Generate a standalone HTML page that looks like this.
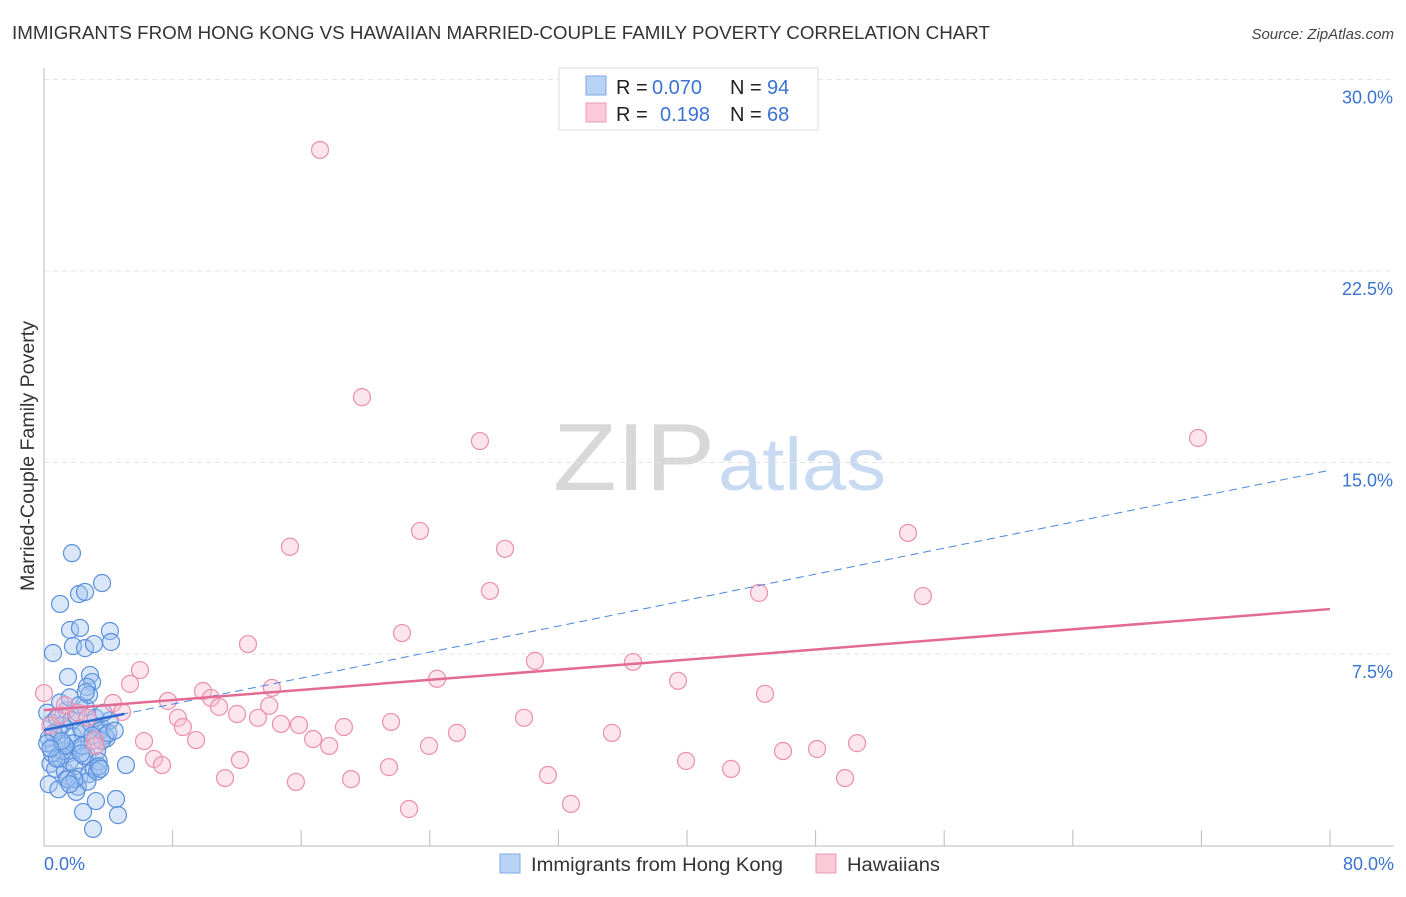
<!DOCTYPE html>
<html><head><meta charset="utf-8">
<style>
body{margin:0;background:#fff;font-family:"Liberation Sans",sans-serif;}
svg text{font-family:"Liberation Sans",sans-serif;}
</style></head>
<body>
<svg id="chart" width="1406" height="892" viewBox="0 0 1406 892">
<text x="12" y="39" font-size="18" fill="#333" textLength="978" lengthAdjust="spacingAndGlyphs">IMMIGRANTS FROM HONG KONG VS HAWAIIAN MARRIED-COUPLE FAMILY POVERTY CORRELATION CHART</text>
<text x="1394" y="39" font-size="15" fill="#444" text-anchor="end" font-style="italic">Source: ZipAtlas.com</text>
<text x="0" y="0" transform="translate(34,456) rotate(-90)" font-size="19" fill="#333" text-anchor="middle" textLength="270" lengthAdjust="spacingAndGlyphs">Married-Couple Family Poverty</text>
<text x="553" y="490" font-size="96" fill="#d8d8d8" font-family="Liberation Serif" textLength="162" lengthAdjust="spacingAndGlyphs">ZIP</text>
<text x="718" y="490" font-size="74" fill="#c8daf2" textLength="168" lengthAdjust="spacingAndGlyphs">atlas</text>
<g id="grid"></g>
<g id="pts"></g>
<g id="lines"></g>
<g>
<rect x="559" y="68" width="259" height="62" fill="#fff" stroke="#ddd"/>
<rect x="586" y="76" width="20" height="19" fill="#b8d3f5" stroke="#7fa9e6"/>
<rect x="586" y="103" width="20" height="19" fill="#fbcad9" stroke="#ee9bb6"/>
<text x="616" y="94" font-size="20" fill="#222">R =</text>
<text x="652" y="94" font-size="20" fill="#3a73d4">0.070</text>
<text x="730" y="94" font-size="20" fill="#222">N =</text>
<text x="767" y="94" font-size="20" fill="#3a73d4">94</text>
<text x="616" y="121" font-size="20" fill="#222">R =</text>
<text x="660" y="121" font-size="20" fill="#3a73d4">0.198</text>
<text x="730" y="121" font-size="20" fill="#222">N =</text>
<text x="767" y="121" font-size="20" fill="#3a73d4">68</text>
</g>
<g>
<rect x="500" y="854" width="20" height="19" fill="#b8d3f5" stroke="#7fa9e6"/>
<text x="531" y="871" font-size="19" fill="#333" textLength="252" lengthAdjust="spacingAndGlyphs">Immigrants from Hong Kong</text>
<rect x="816" y="854" width="20" height="19" fill="#fbcad9" stroke="#ee9bb6"/>
<text x="847" y="871" font-size="19" fill="#333" textLength="93" lengthAdjust="spacingAndGlyphs">Hawaiians</text>
</g>
</svg>
<script>
const yTicks=[7.5,15,22.5,30];
const yTickLabels=["7.5%","15.0%","22.5%","30.0%"];
const xTickLabels=["0.0%","80.0%"];
const blueX=[1.74,3.61,2.18,2.55,1.0,1.62,2.24,4.1,1.8,2.55,3.11,4.17,0.56,1.49,2.86,2.99,2.67,3.23,4.48,2.43,4.6,3.05,5.1,
0.3,0.6,0.9,1.2,1.5,1.8,2.1,2.4,2.7,3.0,3.3,3.6,3.9,0.2,0.5,0.8,1.1,1.4,1.7,2.0,2.3,2.6,2.9,3.2,3.5,3.8,4.1,0.4,0.7,1.0,1.3,1.6,1.9,2.2,2.5,2.8,3.1,3.4,0.3,0.9,1.5,2.1,2.7,3.3,0.6,1.2,1.8,2.4,3.0,3.6,1.0,1.6,2.2,2.8,0.5,1.3,2.0,3.4,4.0,0.2,0.8,1.4,4.4,3.7,2.6,1.1,0.4,1.9,3.5,2.3,1.6];
const blueY=[11.45,10.28,9.85,9.93,9.46,8.44,8.52,8.40,7.81,7.73,7.89,7.97,7.54,6.60,6.68,6.40,6.21,1.74,1.82,1.31,1.19,0.65,3.15,
4.2,3.9,4.5,4.0,3.6,4.3,3.8,4.4,3.5,4.1,3.7,4.6,4.2,5.2,4.8,5.0,4.7,5.3,4.9,5.1,4.6,5.4,4.8,5.0,4.5,4.3,4.9,3.2,3.0,3.4,2.9,3.3,3.1,2.7,3.5,2.8,3.0,3.3,2.4,2.2,2.6,2.3,2.5,2.9,4.4,3.7,4.0,3.9,4.3,4.1,5.6,5.8,5.5,5.9,3.6,3.9,2.1,3.1,4.4,4.0,3.4,2.6,4.5,5.2,6.0,4.1,3.8,2.6,3.0,3.6,2.4];
const pinkX=[17.17,19.78,27.12,71.79,53.75,23.39,15.30,28.68,27.74,44.48,54.68,22.27,12.69,30.54,36.64,5.97,5.35,24.45,39.44,14.18,9.89,10.39,44.85,7.71,4.29,10.89,14.01,4.85,12.01,8.33,8.64,13.31,14.74,15.86,18.66,21.59,29.86,25.69,35.33,6.22,9.46,16.74,17.74,23.95,45.97,48.09,50.58,6.84,7.34,12.19,21.46,39.94,42.74,31.35,11.26,15.67,19.10,49.83,32.78,22.71,0,3.17,1.0,2.1,2.7,0.4,3.2,1.3];
const pinkY=[27.24,17.56,15.84,15.96,12.24,12.32,11.70,11.62,9.97,9.89,9.77,8.32,7.89,7.23,7.19,6.87,6.33,6.53,6.45,6.17,6.05,5.78,5.94,5.66,5.58,5.43,5.47,5.23,5.15,5.00,4.64,5.00,4.76,4.72,4.64,4.84,5.00,4.41,4.41,4.09,4.13,4.17,3.90,3.90,3.70,3.78,4.01,3.39,3.15,3.35,3.07,3.31,3.00,2.76,2.64,2.49,2.60,2.64,1.63,1.43,5.97,4.13,5.1,5.2,5.0,4.7,3.9,5.5];
const pinkLine=[5.30,9.26];
const blueLine=[4.52,14.7];
const blueSolidEnd=5;
const NS="http://www.w3.org/2000/svg";
const X=v=>44+v*1286/80, Y=v=>845.5-v*766/30;
function mk(t,a,p){const e=document.createElementNS(NS,t);for(const k in a)e.setAttribute(k,a[k]);p.appendChild(e);return e;}
const grid=document.getElementById('grid');
yTicks.forEach((t,i)=>{
 const l=mk('line',{x1:44,x2:1394,y1:Y(t),y2:Y(t),stroke:'#e3e3e3','stroke-dasharray':'5,4'},grid);
 
 
 const tx=mk('text',{x:1393,y:Y(t)+24,'font-size':18,fill:'#3a73d4','text-anchor':'end'},grid);
 tx.textContent=yTickLabels[i];
 
 
});
const ax=mk('line',{x1:44,x2:44,y1:68,y2:846,stroke:'#bbb'},grid);


const bx=mk('line',{x1:44,x2:1394,y1:846,y2:846,stroke:'#bbb'},grid);


for(let i=1;i<=10;i++){const t=mk('line',{x1:X(i*8),x2:X(i*8),y1:830,y2:846,stroke:'#bbb'},grid);
 
 }
[[0,'start',44],[80,'end',1394]].forEach((d,i)=>{const t=mk('text',{x:d[2],y:870,'font-size':18,fill:'#3a73d4','text-anchor':d[1]},grid);t.textContent=xTickLabels[i];
 
 });
const pts=document.getElementById('pts');
blueX.forEach((x,i)=>{const c=mk('circle',{cx:X(x),cy:Y(blueY[i]),r:8.5,fill:'rgba(160,196,240,0.4)',stroke:'#5a90dd','stroke-width':1.2},pts);
 
 });
pinkX.forEach((x,i)=>{const c=mk('circle',{cx:X(x),cy:Y(pinkY[i]),r:8.5,fill:'rgba(248,190,208,0.4)',stroke:'#ec8fae','stroke-width':1.2},pts);
 
 });
const lines=document.getElementById('lines');
const bd=mk('line',{x1:X(0),y1:Y(blueLine[0]),x2:X(80),y2:Y(blueLine[1]),stroke:'#4a86dc','stroke-width':1,'stroke-dasharray':'8,5'},lines);


const bs=mk('line',{x1:X(0),y1:Y(blueLine[0]),x2:X(blueSolidEnd),y2:Y(blueLine[0]+(blueLine[1]-blueLine[0])*blueSolidEnd/80),stroke:'#2f6ad0','stroke-width':2.5},lines);


const pl=mk('line',{x1:X(0),y1:Y(pinkLine[0]),x2:X(80),y2:Y(pinkLine[1]),stroke:'#e46a96','stroke-width':2.5},lines);


</script>
</body></html>
